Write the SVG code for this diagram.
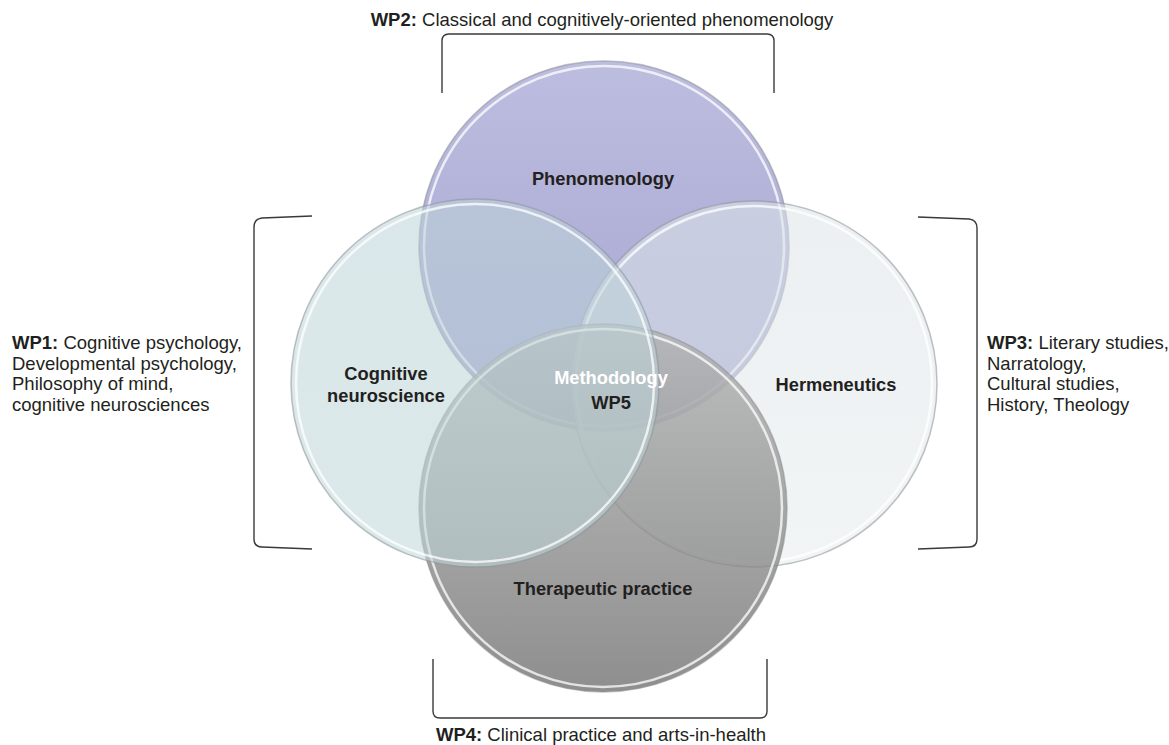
<svg xmlns="http://www.w3.org/2000/svg" width="1169" height="745" viewBox="0 0 1169 745">
<style>
.lbl{font-family:"Liberation Sans",Arial,sans-serif;font-size:18.3px;font-weight:bold;fill:#231f20;text-anchor:middle}
.side{font-family:"Liberation Sans",Arial,sans-serif;font-size:18.5px;fill:#231f20}
.b{font-weight:bold}
.br{fill:none;stroke:#3a3a3a;stroke-width:1.4}
.edge{fill:none;stroke:#8a9096;stroke-opacity:0.55;stroke-width:1.5}
.rim{fill:none;stroke:#ffffff;stroke-opacity:0.75;stroke-width:2.5}
</style>
<defs>
<linearGradient id="gPh" x1="0" y1="0" x2="0" y2="1">
<stop offset="0" stop-color="#bdbde0"/><stop offset="1" stop-color="#a4a4d0"/>
</linearGradient>
<linearGradient id="gHe" x1="0" y1="0" x2="0" y2="1">
<stop offset="0" stop-color="#dbe3e6"/><stop offset="1" stop-color="#e6ecee"/>
</linearGradient>
<linearGradient id="gTh" x1="0" y1="0" x2="0" y2="1">
<stop offset="0" stop-color="#b2b2b2"/><stop offset="1" stop-color="#727272"/>
</linearGradient>
<linearGradient id="gCo" x1="0" y1="0" x2="0" y2="1">
<stop offset="0" stop-color="#bcd3d8"/><stop offset="1" stop-color="#bfd6d8"/>
</linearGradient>
</defs>
<rect width="1169" height="745" fill="#ffffff"/>

<g id="node-phenomenology">
<circle cx="604" cy="246" r="185" fill="url(#gPh)"/>
<circle cx="604" cy="246" r="185" class="edge"/>
<circle cx="604" cy="246" r="180" class="rim" stroke-opacity="0.45"/>
</g>
<g id="node-hermeneutics">
<circle cx="754" cy="384" r="183" fill="url(#gHe)" fill-opacity="0.55"/>
<circle cx="754" cy="384" r="183" class="edge"/>
<circle cx="754" cy="384" r="178" class="rim"/>
</g>
<g id="node-therapeutic">
<circle cx="603" cy="508" r="184" fill="url(#gTh)" fill-opacity="0.8"/>
<circle cx="603" cy="508" r="184" class="edge"/>
<circle cx="603" cy="508" r="179" class="rim" stroke-opacity="0.35"/>
</g>
<g id="node-cognitive">
<circle cx="475" cy="383" r="184" fill="url(#gCo)" fill-opacity="0.55"/>
<circle cx="475" cy="383" r="184" class="edge"/>
<circle cx="475" cy="383" r="179" class="rim"/>
</g>

<g id="labels">
<text class="lbl" x="603" y="185">Phenomenology</text>
<text class="lbl" x="386" y="380">Cognitive</text>
<text class="lbl" x="386" y="402">neuroscience</text>
<text class="lbl" x="836" y="391">Hermeneutics</text>
<text class="lbl" x="603" y="595">Therapeutic practice</text>
<text class="lbl" x="611" y="384" style="fill:#ffffff">Methodology</text>
<text class="lbl" x="611" y="409">WP5</text>
</g>

<g id="connectors">
<path class="br" d="M442,93 L442,41 Q442,34 449,34 L767,34 Q774,34 774,41 L774,93"/>
<path class="br" d="M312,216 L262,218 Q254,219 254,227 L254,539 Q254,547 262,547 L312,549"/>
<path class="br" d="M918,217 L969,219 Q977,220 977,228 L977,539 Q977,547 969,547 L918,549"/>
<path class="br" d="M433,659 L433,711 Q433,718 440,718 L760,718 Q767,718 767,711 L767,659"/>
</g>

<g id="wp2">
<text class="side" x="602" y="26" text-anchor="middle"><tspan class="b">WP2:</tspan> Classical and cognitively-oriented phenomenology</text>
</g>
<g id="wp1">
<text class="side" x="12" y="349"><tspan class="b">WP1:</tspan> Cognitive psychology,</text>
<text class="side" x="12" y="370">Developmental psychology,</text>
<text class="side" x="12" y="390">Philosophy of mind,</text>
<text class="side" x="12" y="411">cognitive neurosciences</text>
</g>
<g id="wp3">
<text class="side" x="987" y="349"><tspan class="b">WP3:</tspan> Literary studies,</text>
<text class="side" x="987" y="370">Narratology,</text>
<text class="side" x="987" y="390">Cultural studies,</text>
<text class="side" x="987" y="411">History, Theology</text>
</g>
<g id="wp4">
<text class="side" x="601" y="741" text-anchor="middle"><tspan class="b">WP4:</tspan> Clinical practice and arts-in-health</text>
</g>
</svg>
